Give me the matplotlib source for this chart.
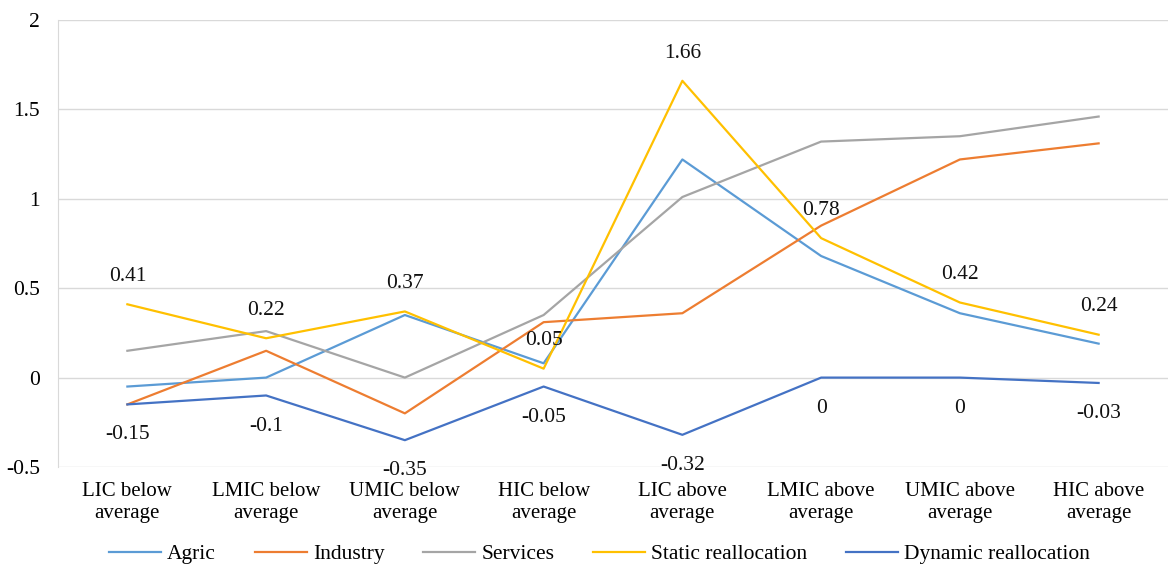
import matplotlib
matplotlib.use('Agg')
from matplotlib import pyplot as plt
import numpy as np

categories = ['LIC below\naverage', 'LMIC below\naverage', 'UMIC below\naverage', 'HIC below\naverage',
              'LIC above\naverage', 'LMIC above\naverage', 'UMIC above\naverage', 'HIC above\naverage']
agric = [-0.05, 0.0, 0.35, 0.08, 1.22, 0.68, 0.36, 0.19]
industry = [-0.15, 0.15, -0.20, 0.31, 0.36, 0.85, 1.22, 1.31]
services = [0.15, 0.26, 0.0, 0.35, 1.01, 1.32, 1.35, 1.46]
static_realloc = [0.41, 0.22, 0.37, 0.05, 1.66, 0.78, 0.42, 0.24]
dynamic_realloc = [-0.15, -0.1, -0.35, -0.05, -0.32, 0, 0, -0.03]

plt.rcParams['font.family'] = ['Liberation Serif', 'DejaVu Serif']
fs = 15.5

fig = plt.figure(figsize=(11.7, 5.65), dpi=100)
ax = fig.add_axes([58/1170, 1 - 467/565, (1168-58)/1170, (467-20)/565])

x = np.arange(len(categories))
ax.plot(x, agric, color='#5B9BD5', lw=1.6, label='Agric')
ax.plot(x, industry, color='#ED7D31', lw=1.6, label='Industry')
ax.plot(x, services, color='#A5A5A5', lw=1.6, label='Services')
ax.plot(x, static_realloc, color='#FFC000', lw=1.6, label='Static reallocation')
ax.plot(x, dynamic_realloc, color='#4472C4', lw=1.6, label='Dynamic reallocation')

# data labels: static above, dynamic below
for i in range(len(x)):
    ax.annotate(f'{static_realloc[i]:g}', (x[i], static_realloc[i]), xytext=(0, 20),
                textcoords='offset points', ha='center', va='center', fontsize=fs, color='#111111')
    ax.annotate(f'{dynamic_realloc[i]:g}', (x[i], dynamic_realloc[i]), xytext=(0, -22),
                textcoords='offset points', ha='center', va='center', fontsize=fs, color='#111111')

ax.set_xlim(-0.5, len(x) - 0.5)
ax.set_ylim(-0.5, 2)
ax.set_yticks([-0.5, 0, 0.5, 1, 1.5, 2])
ax.set_yticklabels(['-0.5', '0', '0.5', '1', '1.5', '2'], fontsize=fs)
ax.set_xticks(x)
ax.set_xticklabels(categories, fontsize=15, linespacing=1.2)
ax.tick_params(axis='y', length=0, pad=13)
ax.tick_params(axis='x', length=0, pad=11)
ax.grid(axis='y', color='#D9D9D9', lw=1)
ax.set_axisbelow(True)
for s in ['top', 'right', 'bottom']:
    ax.spines[s].set_visible(False)
ax.spines['left'].set_color('#D9D9D9')

ax.legend(loc='center', bbox_to_anchor=(0.488, -0.195),
          ncol=5, frameon=False, fontsize=fs, handlelength=2.4, columnspacing=1.8, handletextpad=0.3)

fig.savefig('out.png', dpi=100)
